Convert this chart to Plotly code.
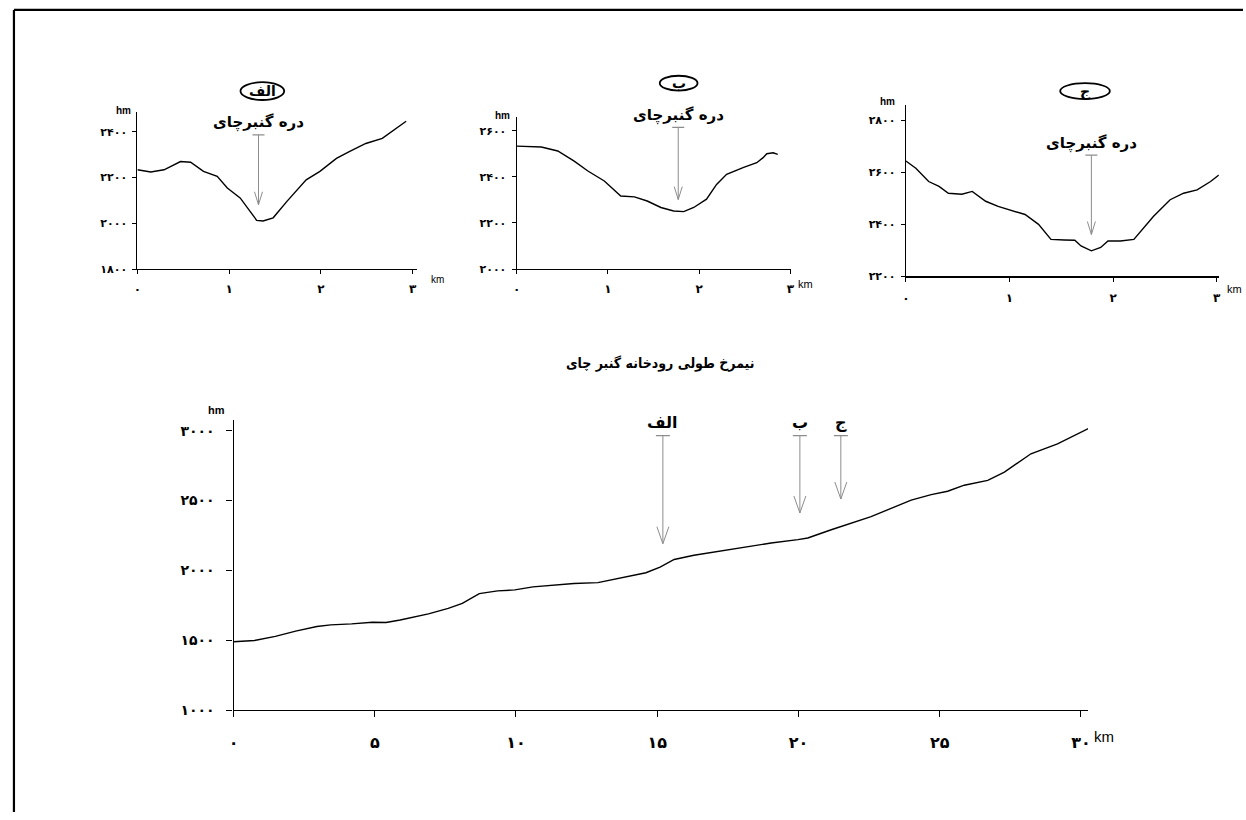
import plotly.graph_objects as go

W, H = 1246, 820

# ---------------- data ----------------
# main longitudinal profile (km, hm)
main_km = [0, 0.74, 1.48, 2.2, 2.95, 3.44, 4.18, 4.92, 5.4, 5.9, 6.9, 7.6, 8.1, 8.7, 9.35, 9.96,
           10.6, 11.3, 12.05, 12.9, 13.8, 14.6, 15.1, 15.6, 16.3, 17.38, 18.2, 19.03, 19.98, 20.33,
           21.16, 21.86, 22.57, 23.28, 23.99, 24.7, 25.28, 25.87, 26.7, 27.29, 28.23, 29.17, 30.35]
main_hm = [1489, 1498, 1527, 1565, 1598, 1610, 1617, 1629, 1627, 1645, 1688, 1728, 1763, 1834, 1853, 1860,
           1882, 1896, 1906, 1912, 1947, 1983, 2023, 2078, 2108, 2142, 2165, 2196, 2220, 2232,
           2291, 2338, 2385, 2444, 2503, 2543, 2567, 2610, 2645, 2704, 2835, 2906, 3024]

a_km = [0, 0.145, 0.29, 0.47, 0.58, 0.72, 0.87, 0.98, 1.12, 1.23, 1.30, 1.37, 1.48, 1.63, 1.84, 1.99,
        2.17, 2.31, 2.49, 2.67, 2.82, 2.93]
a_hm = [2234, 2224, 2234, 2270, 2267, 2227, 2205, 2154, 2111, 2053, 2013, 2010, 2024, 2096, 2190, 2227,
        2284, 2313, 2349, 2371, 2415, 2446]

b_km = [0, 0.27, 0.45, 0.63, 0.78, 0.96, 1.14, 1.29, 1.43, 1.58, 1.72, 1.83, 1.94, 2.08, 2.19, 2.30,
        2.48, 2.63, 2.70, 2.74, 2.81, 2.86]
b_hm = [2533, 2529, 2512, 2468, 2425, 2382, 2317, 2313, 2295, 2267, 2252, 2249, 2267, 2303, 2367, 2411,
        2440, 2461, 2483, 2500, 2504, 2497]

c_km = [0, 0.096, 0.22, 0.32, 0.41, 0.54, 0.64, 0.77, 0.89, 1.05, 1.15, 1.28, 1.40, 1.53, 1.63, 1.69,
        1.79, 1.88, 1.95, 2.07, 2.20, 2.39, 2.55, 2.68, 2.81, 2.94, 3.02]
c_hm = [2644, 2616, 2565, 2546, 2520, 2516, 2527, 2489, 2469, 2450, 2438, 2400, 2342, 2340, 2339, 2317,
        2298, 2311, 2336, 2336, 2342, 2431, 2495, 2520, 2533, 2565, 2590]

# tick values / labels
main_xticks = [0, 5, 10, 15, 20, 25, 30]
main_xlabels = ["۰", "۵", "۱۰", "۱۵", "۲۰", "۲۵", "۳۰"]
main_yticks = [1000, 1500, 2000, 2500, 3000]
main_ylabels = ["۱۰۰۰", "۱۵۰۰", "۲۰۰۰", "۲۵۰۰", "۳۰۰۰"]
small_xticks = [0, 1, 2, 3]
small_xlabels = ["۰", "۱", "۲", "۳"]
a_yticks = [1800, 2000, 2200, 2400]
a_ylabels = ["۱۸۰۰", "۲۰۰۰", "۲۲۰۰", "۲۴۰۰"]
b_yticks = [2000, 2200, 2400, 2600]
b_ylabels = ["۲۰۰۰", "۲۲۰۰", "۲۴۰۰", "۲۶۰۰"]
c_yticks = [2200, 2400, 2600, 2800]
c_ylabels = ["۲۲۰۰", "۲۴۰۰", "۲۶۰۰", "۲۸۰۰"]

# arrows on main profile (km, top hm, tip hm) and their labels
main_arrow_km = [15.2, 20.05, 21.5]
main_arrow_top = [2965, 2965, 2965]
main_arrow_tip = [2191, 2411, 2511]
main_arrow_lab = ["الف", "ب", "ج"]

# arrows on cross sections (km, top hm, tip hm)
sec_arrow_km = [1.32, 1.77, 1.79]
sec_arrow_top = [2387, 2614, 2667]
sec_arrow_tip = [2081, 2301, 2361]
sec_letters = ["الف", "ب", "ج"]
valley_label = "دره گنبرچای"
title_text = "نیمرخ طولی رودخانه گنبر چای"

# ---------------- layout helpers ----------------
def px(x):
    return x / W

def py(y):
    return 1 - y / H

FONT = "DejaVu Sans"
CFONT = "DejaVu Sans Condensed, DejaVu Sans"
fig = go.Figure()

# panel definitions: (xaxis, yaxis, px_left, px_right, px_top, px_bottom, xrange, yrange)
panels = {
    "main": ("x", "y", 230, 1090, 424, 717, [0, 30.25], [1000, 3078]),
    "a": ("x2", "y2", 133.3, 414.8, 113, 271.7, [0, 3.05], [1800, 2487]),
    "b": ("x3", "y3", 515, 791.5, 118, 271.7, [0, 3.01], [2000, 2660]),
    "c": ("x4", "y4", 906.7, 1221.7, 106, 279, [0, 3.02], [2200, 2860]),
}

series = {"main": (main_km, main_hm), "a": (a_km, a_hm), "b": (b_km, b_hm), "c": (c_km, c_hm)}
for k, (xa, ya, *_r) in panels.items():
    xs, ys = series[k]
    fig.add_trace(go.Scatter(x=xs, y=ys, mode="lines", xaxis=xa, yaxis=ya,
                             line=dict(color="black", width=1.4),
                             hoverinfo="skip", showlegend=False))

# x labels, y labels, x font size, y font size, tick length, x-label standoff, y-label standoff
ticks_cfg = {
    "main": (main_xticks, main_xlabels, main_yticks, main_ylabels, 16, 14, 6, 12, 9),
    "a": (small_xticks, small_xlabels, a_yticks, a_ylabels, 12, 11, 4, 4, 3),
    "b": (small_xticks, small_xlabels, b_yticks, b_ylabels, 12, 11, 4, 4, 3),
    "c": (small_xticks, small_xlabels, c_yticks, c_ylabels, 12, 11, 4, 5, 3),
}

layout_axes = {}
for k, (xa, ya, l, r, t, b, xr, yr) in panels.items():
    xt, xl, yt, yl, fsx, fsy, tl, sox, soy = ticks_cfg[k]
    xname = "xaxis" if xa == "x" else "xaxis" + xa[1:]
    yname = "yaxis" if ya == "y" else "yaxis" + ya[1:]
    lw = 2 if k == "c" else 1.3
    layout_axes[xname] = dict(domain=[px(l), px(r)], range=xr, anchor=ya, showgrid=False, zeroline=False,
                              showline=True, linecolor="black", linewidth=lw, ticks="outside",
                              ticklen=tl, tickcolor="black", tickwidth=1, tickvals=xt, ticktext=xl,
                              ticklabelstandoff=sox,
                              tickfont=dict(family=FONT, size=fsx, color="black", weight="bold"),
                              fixedrange=True)
    layout_axes[yname] = dict(domain=[py(b), py(t)], range=yr, anchor=xa, showgrid=False, zeroline=False,
                              showline=True, linecolor="black", linewidth=1.3, ticks="outside",
                              ticklen=tl, tickcolor="black", tickwidth=1, tickvals=yt, ticktext=yl,
                              ticklabelstandoff=soy,
                              tickfont=dict(family=FONT, size=fsy, color="black", weight="bold"),
                              fixedrange=True)

shapes = []
annotations = []
GREY = "#8c8c8c"

def add_arrow(xref, yref, xv, ytop, ytip, cap=6, head_w=5, head_h=14):
    shapes.append(dict(type="line", xref=xref, yref=yref, x0=xv, x1=xv, y0=ytop, y1=ytip,
                       line=dict(color=GREY, width=1)))
    shapes.append(dict(type="line", xref=xref, yref=yref, xsizemode="pixel", xanchor=xv,
                       x0=-cap, x1=cap, y0=ytop, y1=ytop, line=dict(color=GREY, width=1.2)))
    for s in (-1, 1):
        shapes.append(dict(type="line", xref=xref, yref=yref, xsizemode="pixel", xanchor=xv,
                           ysizemode="pixel", yanchor=ytip, x0=0, x1=s * head_w, y0=0, y1=head_h,
                           line=dict(color=GREY, width=1)))

def text(xref, yref, x, y, s, size, family=FONT, bold=True, yshift=0):
    annotations.append(dict(xref=xref, yref=yref, x=x, y=y, yshift=yshift, text=s, showarrow=False,
                            xanchor="center", yanchor="middle",
                            font=dict(family=family, size=size, color="black",
                                      weight="bold" if bold else "normal")))

# main arrows + letters
for xv, yt, yb, lab in zip(main_arrow_km, main_arrow_top, main_arrow_tip, main_arrow_lab):
    add_arrow("x", "y", xv, yt, yb, cap=7, head_w=6, head_h=17)
    text("x", "y", xv, yt, lab, 16, yshift=13)

# section arrows, valley labels
sec_axes = [("x2", "y2"), ("x3", "y3"), ("x4", "y4")]
for (xa, ya), xv, yt, yb in zip(sec_axes, sec_arrow_km, sec_arrow_top, sec_arrow_tip):
    add_arrow(xa, ya, xv, yt, yb, cap=6, head_w=4, head_h=13)
    text(xa, ya, xv, yt, valley_label, 15, yshift=12)

# circled letters (paper positions in pixels)
circ_pos = [(259, 92, 44, 18), (678, 84, 38, 15), (1087, 92, 50, 16)]
for (cx, cy, cw, ch), let in zip(circ_pos, sec_letters):
    shapes.append(dict(type="circle", xref="paper", yref="paper", x0=px(cx - cw / 2), x1=px(cx + cw / 2),
                       y0=py(cy + ch / 2), y1=py(cy - ch / 2), line=dict(color="black", width=1.8)))
    text("paper", "paper", px(cx), py(cy), let, 14)

# unit labels
for (x0, y0, s) in [(213, 414, 11), (119, 112, 10), (501, 117, 10), (888, 103, 10)]:
    text("paper", "paper", px(x0), py(y0), "hm", s, family="Liberation Sans")
for (x0, y0, s) in [(1106, 744, 15), (435, 282, 10), (806, 287, 11), (1237, 292, 11)]:
    text("paper", "paper", px(x0), py(y0), "km", s, family="Liberation Sans", bold=False)

# title
text("paper", "paper", px(660), py(367), title_text, 14, family=CFONT)

# frame lines (top and left only visible)
shapes.append(dict(type="line", xref="paper", yref="paper", x0=px(9), x1=1, y0=py(10), y1=py(10),
                   line=dict(color="black", width=2.2)))
shapes.append(dict(type="line", xref="paper", yref="paper", x0=px(9), x1=px(9), y0=py(10), y1=0,
                   line=dict(color="black", width=2.2)))

fig.update_layout(width=W, height=H, margin=dict(l=0, r=0, t=0, b=0), paper_bgcolor="white",
                  plot_bgcolor="white", showlegend=False, shapes=shapes, annotations=annotations,
                  **layout_axes)

fig.write_html("out.html", config={"displayModeBar": False},
               post_script="document.body.style.margin='0';document.body.style.overflow='hidden';")
